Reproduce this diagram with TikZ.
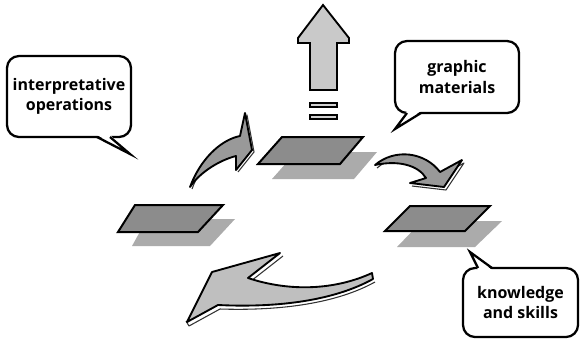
\documentclass[tikz,border=0pt]{standalone}
\usepackage{fontspec}
\setmainfont{Open Sans}
\usepackage{tikz}
\usetikzlibrary{positioning}

\begin{document}
\begin{tikzpicture}[x=0.75pt,y=-0.75pt,
  bubble/.style={draw=black,line width=1.7pt,fill=white,rounded corners=9pt,align=center,inner sep=0pt,font=\fontsize{12}{15.5}\selectfont\bfseries},
  plane/.style={draw=black,line width=1.5pt,fill=black!45},
  shade/.style={fill=black!33},
  swoosh/.style={draw=black,line width=1.4pt,line join=round},
  ghost/.style={draw=black!80,line width=0.8pt,line join=round},
  bar/.style={draw=black,line width=1.2pt,fill=black!18,minimum width=20.25pt,minimum height=3pt,inner sep=0pt}]
\useasboundingbox (0,0) rectangle (580,340);

% planes with their shadows
\fill[shade] (296,152) -- (377,152) -- (354,179) -- (272,179) -- cycle;
\draw[plane] (282,137) -- (363,137) -- (340,164) -- (258,164) -- cycle;
\fill[shade] (147,219) -- (235,219) -- (210,246) -- (132,246) -- cycle;
\draw[plane] (135,205) -- (223,205) -- (198,232) -- (118,232) -- cycle;
\fill[shade] (422,221) -- (502,221) -- (475,247) -- (397,247) -- cycle;
\draw[plane] (410,206) -- (490,206) -- (465,231) -- (385,231) -- cycle;

% up arrow and the two bars
\draw[draw=black,line width=1.4pt,fill=black!21] (323,5) -- (349,38) -- (349,43) -- (337,43) -- (337,90) -- (310,90) -- (310,43) -- (298,43) -- (298,38) -- cycle;
\node[bar] (bar1) at (323.5,105) {};
\node[bar,below=5pt of bar1] (bar2) {};

% small arrow, left
\draw[ghost] (192,189) .. controls (202,162) and (222,142) .. (242,138) -- (247,115) -- (254,152) -- (238,172);
\draw[swoosh,fill=black!40] (190,187) .. controls (200,160) and (220,140) .. (240,136) -- (245,113) -- (252,150) -- (236,170) -- (236,156) .. controls (220,160) and (200,172) .. (190,187) -- cycle;

% small arrow, right
\draw[ghost] (377,168) .. controls (397,151) and (427,155) .. (442,175) -- (464,163) -- (446,190) -- (412,186);
\draw[swoosh,fill=black!40] (375,165) .. controls (395,148) and (425,152) .. (440,172) -- (462,160) -- (444,187) -- (410,183) -- (426,178) .. controls (418,165) and (398,160) .. (375,165) -- cycle;

% big arrow, bottom
\draw[ghost] (283,256) -- (251,281);
\draw[ghost] (375,282) .. controls (337,303) and (282,311) .. (220,309) -- (189,326) -- (186,321);
\draw[swoosh,fill=black!25] (212,272) -- (280,253) -- (248,278) .. controls (290,292) and (335,290) .. (372,273) -- (373,279) .. controls (335,300) and (280,308) .. (218,305) -- (187,322) -- cycle;

% speech bubbles
\node[bubble,minimum width=93pt,minimum height=60.75pt] (interp) at (69,96.5) {interpretative\\operations};
\fill[white] (97,135) -- (130,154) -- (110,135) -- cycle;
\draw[line width=1.7pt,line join=miter] (97,137) -- (130,154) -- (110,137);

\node[bubble,minimum width=93pt,minimum height=54pt] (graphic) at (457,77) {graphic\\materials};
\fill[white] (407,111) -- (395,129) -- (421,111) -- cycle;
\draw[line width=1.7pt,line join=miter] (407,113) -- (395,129) -- (421,113);

\node[bubble,minimum width=86.25pt,minimum height=51.75pt] (know) at (520.5,302.5) {knowledge\\and skills};
\fill[white] (478,270) -- (470,252) -- (492,270) -- cycle;
\draw[line width=1.7pt,line join=miter] (478,268) -- (470,252) -- (492,268);

\end{tikzpicture}
\end{document}
